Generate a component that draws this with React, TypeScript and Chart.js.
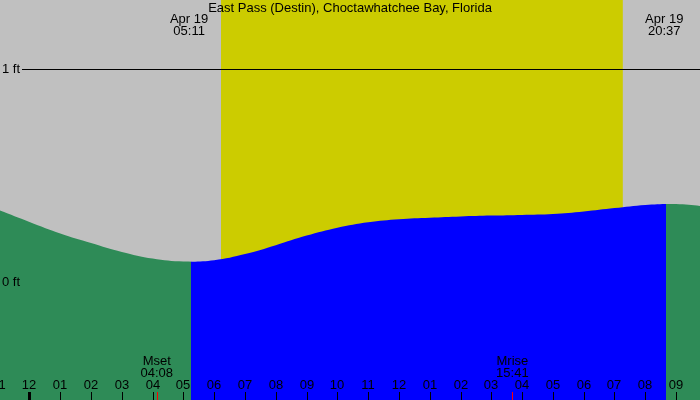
import React, { useEffect, useRef } from "react";
import { Chart, registerables } from "chart.js";

Chart.register(...registerables);

// Tide heights (ft), hourly, hour -1 (11 pm previous day) to hour 22
const hours = [-1, 0, 1, 2, 3, 4, 5, 6, 7, 8, 9, 10, 11, 12, 13, 14, 15, 16, 17, 18, 19, 20, 21, 22];
const tideFt = [0.338, 0.282, 0.228, 0.183, 0.141, 0.11, 0.096, 0.102, 0.131, 0.173, 0.218, 0.255, 0.281, 0.295, 0.302, 0.308, 0.312, 0.315, 0.319, 0.331, 0.347, 0.362, 0.366, 0.354];

const tickHours = [-1, 0, 1, 2, 3, 4, 5, 6, 7, 8, 9, 10, 11, 12, 13, 14, 15, 16, 17, 18, 19, 20, 21];
const tickLabels = ["11", "12", "01", "02", "03", "04", "05", "06", "07", "08", "09", "10", "11", "12", "01", "02", "03", "04", "05", "06", "07", "08", "09"];

const title = "East Pass (Destin), Choctawhatchee Bay, Florida";
const sunrise = 5 + 11 / 60;
const sunset = 20 + 37 / 60;
const sunriseLabel = ["Apr 19", "05:11"];
const sunsetLabel = ["Apr 19", "20:37"];
const moonset = 4 + 8 / 60;
const moonrise = 15 + 41 / 60;
const moonsetLabel = ["Mset", "04:08"];
const moonriseLabel = ["Mrise", "15:41"];
const daylightBand = [6.22, 19.27];
const ftLines = [1];
const ftLabels = [
  { v: 1, t: "1 ft" },
  { v: 0, t: "0 ft" },
];

const X_MIN = -0.958;
const X_MAX = 21.777;
const Y_MIN = -0.554;
const Y_MAX = 1.324;

const GREY = "#c0c0c0";
const YELLOW = "#cccc00";
const GREEN = "#2e8b57";
const BLUE = "#0000ff";
const FONT = '13px "Liberation Sans", Arial, sans-serif';

const tidePlugin = {
  id: "tideDecor",
  beforeDatasetsDraw(chart: any) {
    const { ctx, chartArea: a, scales } = chart;
    const xs = scales.x;
    ctx.save();
    ctx.fillStyle = GREY;
    ctx.fillRect(a.left, a.top, a.width, a.height);
    const x1 = xs.getPixelForValue(daylightBand[0]);
    const x2 = xs.getPixelForValue(daylightBand[1]);
    ctx.fillStyle = YELLOW;
    ctx.fillRect(x1, a.top, x2 - x1, a.height);
    ctx.restore();
  },
  afterDatasetsDraw(chart: any) {
    const { ctx, chartArea: a, scales } = chart;
    const xs = scales.x;
    const ys = scales.y;
    ctx.save();
    ctx.strokeStyle = "#000";
    ctx.lineWidth = 1;
    for (const v of ftLines) {
      const y = Math.round(ys.getPixelForValue(v)) + 0.5;
      ctx.beginPath();
      ctx.moveTo(22, y);
      ctx.lineTo(a.right, y);
      ctx.stroke();
    }
    ctx.font = FONT;
    ctx.fillStyle = "#000";
    ctx.textAlign = "left";
    ctx.textBaseline = "middle";
    for (const f of ftLabels) {
      ctx.fillText(f.t, 2, ys.getPixelForValue(f.v) + 0.5);
    }
    ctx.textAlign = "center";
    ctx.fillText(title, (a.left + a.right) / 2, 8);
    const sr = xs.getPixelForValue(sunrise);
    const ss = xs.getPixelForValue(sunset);
    ctx.fillText(sunriseLabel[0], sr, 19.5);
    ctx.fillText(sunriseLabel[1], sr, 31.5);
    ctx.fillText(sunsetLabel[0], ss, 19.5);
    ctx.fillText(sunsetLabel[1], ss, 31.5);
    const ms = xs.getPixelForValue(moonset);
    const mr = xs.getPixelForValue(moonrise);
    ctx.fillText(moonsetLabel[0], ms, 361.5);
    ctx.fillText(moonsetLabel[1], ms, 373.5);
    ctx.fillText(moonriseLabel[0], mr, 361.5);
    ctx.fillText(moonriseLabel[1], mr, 373.5);
    tickHours.forEach((h, i) => {
      const x = Math.round(xs.getPixelForValue(h));
      ctx.fillStyle = "#000";
      ctx.fillText(tickLabels[i], x, 385.5);
      const w = h === 0 ? 3 : 1;
      ctx.fillRect(x - Math.floor(w / 2), 392, w, 8);
    });
    ctx.fillStyle = "#ff0000";
    ctx.fillRect(Math.round(ms), 392, 1, 8);
    ctx.fillRect(Math.round(mr), 392, 1, 8);
    ctx.restore();
  },
};

export default function App() {
  const ref = useRef<HTMLCanvasElement>(null);
  useEffect(() => {
    if (!ref.current) return;
    const chart = new Chart(ref.current, {
      type: "line",
      data: {
        datasets: [
          {
            data: hours.map((h, i) => ({ x: h, y: tideFt[i] })),
            borderWidth: 0,
            pointRadius: 0,
            tension: 0.4,
            fill: "start",
            backgroundColor: (c: any) => {
              const chart = c.chart;
              const a = chart.chartArea;
              if (!a) return GREEN;
              const xs = chart.scales.x;
              const clamp = (v: number) => Math.min(1, Math.max(0, v));
              const f1 = clamp((xs.getPixelForValue(sunrise) + 2 - a.left) / a.width);
              const f2 = clamp((xs.getPixelForValue(sunset) + 2 - a.left) / a.width);
              const g = chart.ctx.createLinearGradient(a.left, 0, a.right, 0);
              g.addColorStop(0, GREEN);
              g.addColorStop(f1, GREEN);
              g.addColorStop(f1, BLUE);
              g.addColorStop(f2, BLUE);
              g.addColorStop(f2, GREEN);
              g.addColorStop(1, GREEN);
              return g;
            },
          },
        ],
      },
      options: {
        animation: false,
        responsive: false,
        devicePixelRatio: 1,
        layout: { padding: 0 },
        plugins: { legend: { display: false }, tooltip: { enabled: false }, title: { display: false } },
        scales: {
          x: { type: "linear", min: X_MIN, max: X_MAX, display: false },
          y: { type: "linear", min: Y_MIN, max: Y_MAX, display: false },
        },
      },
      plugins: [tidePlugin],
    });
    return () => chart.destroy();
  }, []);
  return (
    <div style={{ position: "fixed", left: 0, top: 0, width: 700, height: 400 }}>
      <canvas ref={ref} width={700} height={400} style={{ display: "block" }} />
    </div>
  );
}
